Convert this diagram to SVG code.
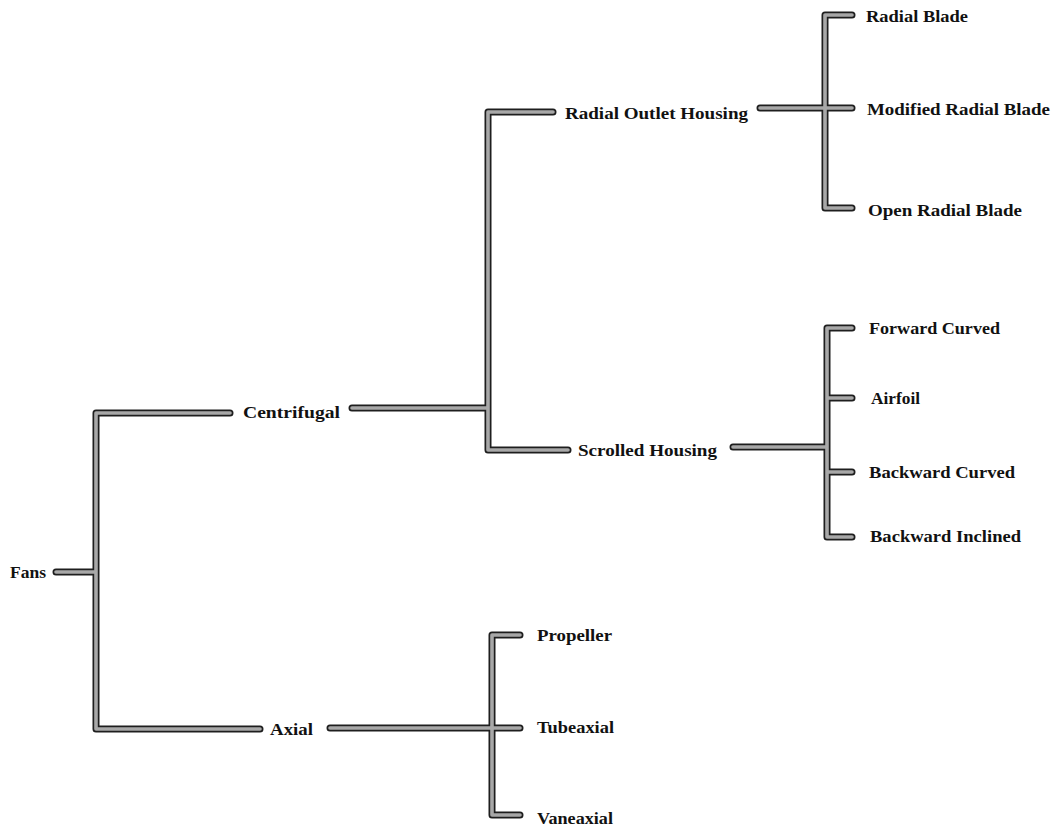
<svg xmlns="http://www.w3.org/2000/svg" width="1055" height="832" viewBox="0 0 1055 832">
<style>
.o{fill:none;stroke:#1e1e1e;stroke-width:7;stroke-linecap:round;stroke-linejoin:round}
.i{fill:none;stroke:#a8a8a8;stroke-width:3.6;stroke-linecap:round;stroke-linejoin:round}
text{font-family:"Liberation Serif","Times New Roman",serif;font-weight:bold;font-size:17.5px;fill:#111}
</style>
<rect width="1055" height="832" fill="#fff"/>
<defs>
<g id="conns">
<path d="M56 572H96M96 413V729M96 413H230M96 729H260"/>
<path d="M352 408H488M488 112V450M488 112H553M488 450H568"/>
<path d="M760 108H852M825 15V208M825 15H852M825 208H852"/>
<path d="M733 447H827M827 328V537M827 328H852M827 398H852M827 472H852M827 537H852"/>
<path d="M330 728H520M492 635V815M492 635H520M492 815H520"/>
</g>
</defs>
<g id="connectors">
<use href="#conns" class="o"/>
<use href="#conns" class="i"/>
</g>
<g id="n-fans"><text x="10" y="578" textLength="36" lengthAdjust="spacingAndGlyphs">Fans</text></g>
<g id="n-centrifugal"><text x="243" y="418" textLength="97" lengthAdjust="spacingAndGlyphs">Centrifugal</text></g>
<g id="n-axial"><text x="270" y="735" textLength="43" lengthAdjust="spacingAndGlyphs">Axial</text></g>
<g id="n-radial-outlet"><text x="565" y="119" textLength="183" lengthAdjust="spacingAndGlyphs">Radial Outlet Housing</text></g>
<g id="n-scrolled"><text x="578" y="456" textLength="139" lengthAdjust="spacingAndGlyphs">Scrolled Housing</text></g>
<g id="n-radial-blade"><text x="866" y="22" textLength="102" lengthAdjust="spacingAndGlyphs">Radial Blade</text></g>
<g id="n-modified"><text x="867" y="115" textLength="183" lengthAdjust="spacingAndGlyphs">Modified Radial Blade</text></g>
<g id="n-open"><text x="868" y="216" textLength="154" lengthAdjust="spacingAndGlyphs">Open Radial Blade</text></g>
<g id="n-forward"><text x="869" y="334" textLength="131" lengthAdjust="spacingAndGlyphs">Forward Curved</text></g>
<g id="n-airfoil"><text x="871" y="404" textLength="49" lengthAdjust="spacingAndGlyphs">Airfoil</text></g>
<g id="n-backward-curved"><text x="869" y="478" textLength="146" lengthAdjust="spacingAndGlyphs">Backward Curved</text></g>
<g id="n-backward-inclined"><text x="870" y="542" textLength="151" lengthAdjust="spacingAndGlyphs">Backward Inclined</text></g>
<g id="n-propeller"><text x="537" y="641" textLength="75" lengthAdjust="spacingAndGlyphs">Propeller</text></g>
<g id="n-tubeaxial"><text x="537" y="733" textLength="77" lengthAdjust="spacingAndGlyphs">Tubeaxial</text></g>
<g id="n-vaneaxial"><text x="537" y="824" textLength="76" lengthAdjust="spacingAndGlyphs">Vaneaxial</text></g>
</svg>
